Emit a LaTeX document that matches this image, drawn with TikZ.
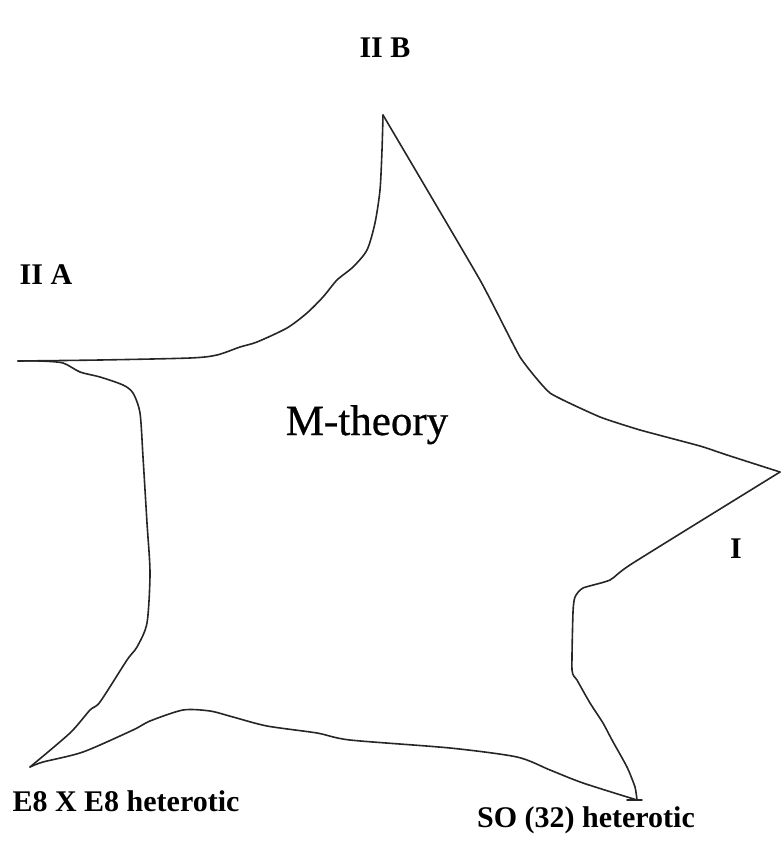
\documentclass[tikz,border=0pt]{standalone}
\usepackage{fontspec}
\setmainfont{Liberation Serif}
\newfontfamily\mfont[FakeBold=0.6]{Liberation Serif}
\begin{document}
\begin{tikzpicture}[x=1pt,y=-1pt,
  edge/.style={line width=1.6pt,black!85,line join=round,line cap=round},
  lbl/.style={anchor=base,inner sep=0pt,font=\fontsize{30}{36}\selectfont\bfseries},
  title/.style={anchor=base,inner sep=0pt,font=\fontsize{43}{48}\mfont}]
\useasboundingbox (0,0) rectangle (783,845);
% top-left curve: IIA tip to IIB tip
\draw[edge] plot[smooth,tension=0.45] coordinates {(18,361) (100,360) (190,358) (217,355) (240,347) (257,342) (287,328) (307,313) (323,297) (337,280) (353,267) (367,250) (375,223) (380,190) (382,150) (383,115)};
% IIB tip to I tip
\draw[edge] plot[smooth,tension=0.25] coordinates {(383,115) (480,280) (520,357) (550,393) (600,417) (640,430) (700,446) (727,455) (780,472)};
% I tip to SO(32) tip
\draw[edge] plot[smooth,tension=0.35] coordinates {(780,472) (633,563) (610,580) (583,588) (575,597) (573,612) (572,670) (577,680) (590,703) (603,723) (612,740) (627,767) (635,787) (637,800)};
\draw[edge] (627,800) -- (642,800);
% SO(32) tip to E8 tip
\draw[edge] plot[smooth,tension=0.45] coordinates {(637,800) (583,783) (550,770) (517,757) (450,748) (350,740) (317,733) (267,726) (233,717) (210,711) (183,710) (150,721) (133,730) (83,752) (43,762) (30,767)};
% E8 tip to IIA tip
\draw[edge] plot[smooth,tension=0.45] coordinates {(30,767) (70,733) (90,710) (100,702) (127,660) (137,647) (147,623) (150,573) (147,523) (143,457) (140,413) (133,393) (123,385) (100,377) (80,372) (63,363) (40,361) (18,361)};
% labels
\node[lbl] (iia) at (46,284) {II A};
\node[lbl] (iib) at (385,58) {II B};
\node[lbl] (one) at (736,558) {I};
\node[lbl] (e8) at (126,811) {E8 X E8 heterotic};
\node[lbl] (so) at (586,827) {SO (32) heterotic};
\node[title] (m) at (367,435) {M-theory};
\end{tikzpicture}
\end{document}
